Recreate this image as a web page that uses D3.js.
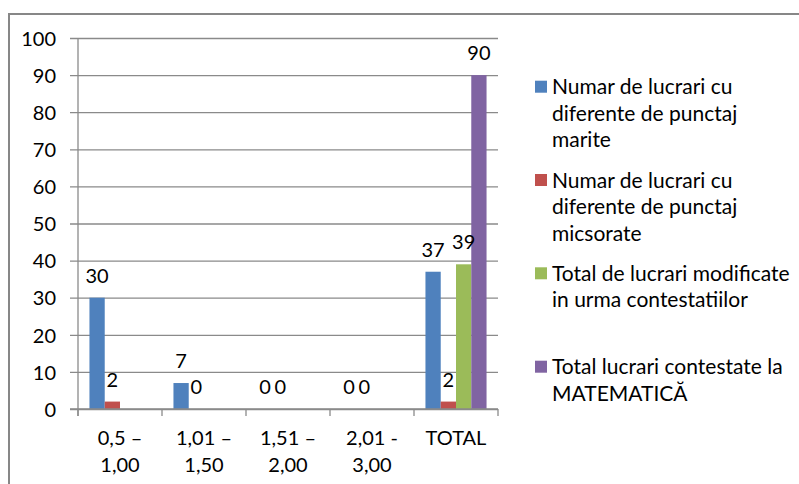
<!DOCTYPE html>
<html>
<head>
<meta charset="utf-8">
<script src="https://cdn.jsdelivr.net/npm/d3@7"></script>
<style>
  body { margin: 0; background: #fff; }
  svg text { font-family: Lato, "Open Sans", sans-serif; fill: #000; }
</style>
</head>
<body>
<svg id="chart"></svg>
<script>
// categories (each label on one or two lines)
var categories = ["0,5 – 1,00", "1,01 – 1,50", "1,51 – 2,00", "2,01 - 3,00", "TOTAL"];
var categoryLines = [["0,5 –", "1,00"], ["1,01 –", "1,50"], ["1,51 –", "2,00"], ["2,01 -", "3,00"], ["TOTAL"]];

// series values (null = no bar, no label)
var marite = [30, 7, 0, 0, 37];
var micsorate = [2, 0, 0, 0, 2];
var modificate = [null, null, null, null, 39];
var contestate = [null, null, null, null, 90];

var seriesNames = [
    ["Numar de lucrari cu", "diferente de punctaj", "marite"],
    ["Numar de lucrari cu", "diferente de punctaj", "micsorate"],
    ["Total de lucrari modificate", "in urma contestatiilor"],
    ["Total lucrari contestate la", "MATEMATICĂ"]
];
var seriesColors = ["#4F81BD", "#C0504D", "#9BBB59", "#8064A2"];
var yTicks = [0, 10, 20, 30, 40, 50, 60, 70, 80, 90, 100];

var allSeries = [marite, micsorate, modificate, contestate];

var config = {
    width: 799,
    height: 484,
    left: 78,
    right: 498,
    top: 38,
    bottom: 409,
    gridColor: "#8a8a8a",
    fontSize: 20,
    legendFontSize: 21
};

var svg = d3.select("#chart")
    .attr("width", config.width)
    .attr("height", config.height);

// outer chart border
svg.append("path")
    .attr("d", "M9,484 V14 H799")
    .attr("fill", "none")
    .attr("stroke", "#878787")
    .attr("stroke-width", 2);

var x = d3.scaleBand()
    .domain(categories)
    .range([config.left, config.right]);

var xs = d3.scaleBand()
    .domain(d3.range(allSeries.length))
    .range([0, x.bandwidth()])
    .paddingInner(0)
    .paddingOuter(0.75);

var y = d3.scaleLinear()
    .domain([0, 100])
    .range([config.bottom, config.top]);

// gridlines + y tick labels
var yAxis = d3.axisLeft(y)
    .tickValues(yTicks)
    .tickSize(-(config.right - config.left))
    .tickSizeOuter(0)
    .tickPadding(0)
    .tickFormat(d3.format("d"));

var gy = svg.append("g")
    .attr("transform", "translate(" + config.left + ",0)")
    .call(yAxis);
gy.select(".domain").remove();
gy.selectAll(".tick line")
    .attr("x1", -8)
    .attr("stroke", config.gridColor)
    .attr("stroke-width", 1.3);
gy.selectAll(".tick text")
    .attr("x", -22)
    .attr("dy", "0.36em")
    .style("font-size", config.fontSize + "px");

// vertical axis line
svg.append("line")
    .attr("x1", config.left).attr("x2", config.left)
    .attr("y1", config.top).attr("y2", config.bottom + 7)
    .attr("stroke", config.gridColor)
    .attr("stroke-width", 1.3);

// category ticks on the bottom
svg.selectAll("line.xtick")
    .data(categories.concat(["end"]))
    .enter()
    .append("line")
    .attr("class", "xtick")
    .attr("x1", function(d, i) { return i < categories.length ? x(d) : config.right; })
    .attr("x2", function(d, i) { return i < categories.length ? x(d) : config.right; })
    .attr("y1", config.bottom)
    .attr("y2", config.bottom + 7)
    .attr("stroke", config.gridColor)
    .attr("stroke-width", 1.3);

// points per series, without the empty ones
var seriesPts = allSeries.map(function(values, s) {
    return values.map(function(v, i) { return { v: v, c: categories[i], s: s }; })
        .filter(function(d) { return d.v !== null; });
});

// bars
svg.selectAll("g.series")
    .data(seriesPts)
    .enter()
    .append("g")
    .attr("class", "series")
    .style("fill", function(d, s) { return seriesColors[s]; })
    .selectAll("rect")
    .data(function(d) { return d; })
    .enter()
    .append("rect")
    .attr("x", function(d) { return x(d.c) + xs(d.s); })
    .attr("width", xs.bandwidth())
    .attr("y", function(d) { return y(d.v); })
    .attr("height", function(d) { return config.bottom - y(d.v); });

// baseline over bars
svg.append("line")
    .attr("x1", config.left - 8).attr("x2", config.right)
    .attr("y1", config.bottom).attr("y2", config.bottom)
    .attr("stroke", config.gridColor)
    .attr("stroke-width", 1.3);

// value labels, drawn above every bar
svg.append("g")
    .selectAll("text")
    .data(d3.merge(seriesPts))
    .enter()
    .append("text")
    .attr("x", function(d) { return x(d.c) + xs(d.s) + xs.bandwidth() / 2; })
    .attr("y", function(d) { return y(d.v) - 15; })
    .attr("text-anchor", "middle")
    .style("font-size", config.fontSize + "px")
    .text(function(d) { return d.v; });

// category labels
svg.selectAll("text.cat")
    .data(categories)
    .enter()
    .append("text")
    .attr("class", "cat")
    .attr("text-anchor", "middle")
    .attr("x", function(d) { return x(d) + x.bandwidth() / 2; })
    .attr("y", 445)
    .style("font-size", config.fontSize + "px")
    .each(function(d, i) {
        var t = d3.select(this);
        categoryLines[i].forEach(function(line, j) {
            t.append("tspan")
                .attr("x", x(d) + x.bandwidth() / 2)
                .attr("dy", j === 0 ? 0 : 27)
                .text(line);
        });
    });

// legend
var legendTop = [86.7, 180, 273.3, 366.7];
var legend = svg.selectAll("g.legend")
    .data(seriesNames)
    .enter()
    .append("g")
    .attr("class", "legend")
    .attr("transform", function(d, i) { return "translate(535," + legendTop[i] + ")"; });

legend.append("rect")
    .attr("x", 0)
    .attr("y", -6)
    .attr("width", 12)
    .attr("height", 12)
    .style("fill", function(d, i) { return seriesColors[i]; });

legend.append("text")
    .attr("x", 17)
    .attr("y", 0)
    .style("font-size", config.legendFontSize + "px")
    .each(function(lines) {
        var t = d3.select(this);
        lines.forEach(function(line, j) {
            t.append("tspan")
                .attr("x", 17)
                .attr("dy", j === 0 ? "0.36em" : 26.5)
                .text(line);
        });
    });
</script>
</body>
</html>
